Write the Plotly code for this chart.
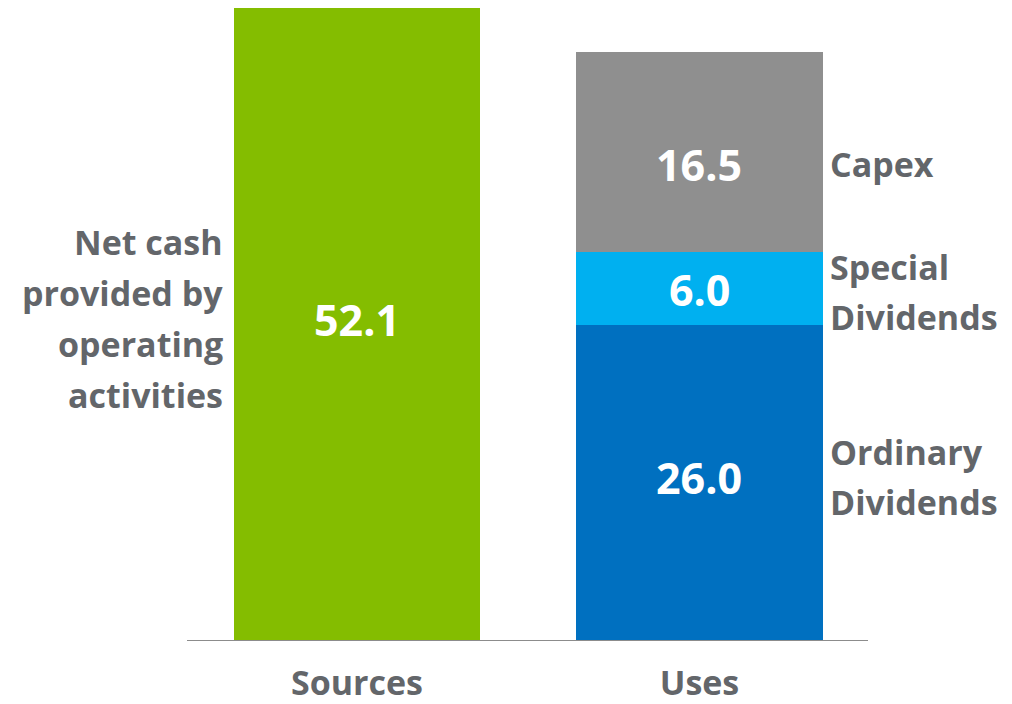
import plotly.graph_objects as go

categories = ["Sources", "Uses"]
sources_values = [52.1, None]
ordinary_div = [None, 26.0]
special_div = [None, 6.0]
capex = [None, 16.5]

left_label_lines = ["Net cash", "provided by", "operating", "activities"]
right_labels = {"Ordinary Dividends": ["Ordinary", "Dividends"],
                "Special Dividends": ["Special", "Dividends"],
                "Capex": ["Capex"]}

GREEN = "#84BD00"
DARK_BLUE = "#0070C0"
LIGHT_BLUE = "#00B0F0"
GREY = "#8F8F8F"
TEXT = "#63666A"
FONT = "Open Sans"
LABEL_SIZE = 34
VALUE_SIZE = 43

fig = go.Figure()
series = [
    ("Sources", sources_values, GREEN),
    ("Ordinary Dividends", ordinary_div, DARK_BLUE),
    ("Special Dividends", special_div, LIGHT_BLUE),
    ("Capex", capex, GREY),
]
for name, vals, col in series:
    fig.add_trace(go.Bar(
        x=categories, y=vals, name=name, marker=dict(color=col, line=dict(width=0)),
        width=0.72, hoverinfo="skip",
    ))

annotations = []
# value labels (inside bars)
value_shifts = {"Sources": 5, "Ordinary Dividends": 6, "Special Dividends": -1, "Capex": -13}
annotations.append(dict(
    x=categories[0], y=sources_values[0] / 2, xref="x", yref="y",
    text=f"<b>{sources_values[0]:.1f}</b>", showarrow=False,
    yshift=value_shifts["Sources"],
    font=dict(family=FONT, size=VALUE_SIZE, color="white"),
))

# left label lines
n = len(left_label_lines)
for i, line in enumerate(left_label_lines):
    annotations.append(dict(
        x=0.0558, xref="paper", y=sources_values[0] / 2, yref="y",
        text=f"<b>{line}</b>", showarrow=False, xanchor="right", yanchor="middle",
        yshift=-(i - (n - 1) / 2) * 51 + 6,
        font=dict(family=FONT, size=LABEL_SIZE, color=TEXT),
    ))

# right labels aligned to Uses segments
base = 0.0
shifts = {"Ordinary Dividends": 6, "Special Dividends": -3, "Capex": -12}
for name, vals in [("Ordinary Dividends", ordinary_div), ("Special Dividends", special_div), ("Capex", capex)]:
    v = vals[1]
    mid = base + v / 2
    annotations.append(dict(
        x=categories[1], y=mid, xref="x", yref="y",
        text=f"<b>{v:.1f}</b>", showarrow=False,
        yshift=value_shifts[name],
        font=dict(family=FONT, size=VALUE_SIZE, color="white"),
    ))
    lines = right_labels[name]
    m = len(lines)
    for i, line in enumerate(lines):
        annotations.append(dict(
            x=0.941, xref="paper", y=mid, yref="y",
            text=f"<b>{line}</b>", showarrow=False, xanchor="left", yanchor="middle",
            yshift=-(i - (m - 1) / 2) * 50 + shifts[name],
            font=dict(family=FONT, size=LABEL_SIZE, color=TEXT),
        ))
    base += v

fig.update_layout(
    barmode="stack",
    width=1004, height=696,
    margin=dict(l=179, r=144, t=0, b=63),
    paper_bgcolor="white", plot_bgcolor="white",
    showlegend=False,
    annotations=annotations,
    xaxis=dict(
        range=[-0.4962, 1.4920], showgrid=False, zeroline=False,
        showline=False, ticks="", ticklabelstandoff=19,
        tickfont=dict(family=FONT, size=LABEL_SIZE, color=TEXT, weight="bold"),
    ),
    yaxis=dict(range=[0, 52.1], visible=False, showgrid=False, zeroline=False),
    shapes=[dict(type="line", xref="paper", yref="y", x0=0, x1=1, y0=0, y1=0,
                 line=dict(color="#8C8C8C", width=2), layer="above")],
)

fig.write_html("out.html")
